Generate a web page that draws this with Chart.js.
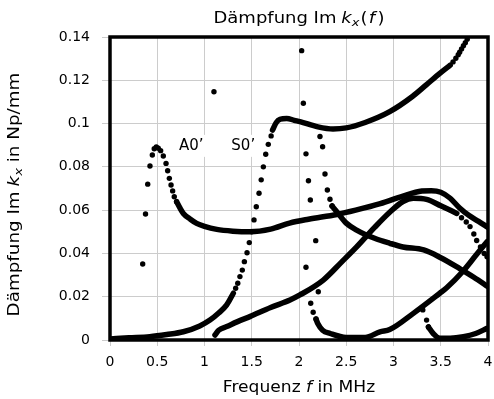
<!DOCTYPE html>
<html><head><meta charset="utf-8">
<script src="https://cdn.jsdelivr.net/npm/chart.js@4/dist/chart.umd.min.js"></script>
<style>html,body{margin:0;padding:0;background:#fff}canvas{display:block}</style>
</head><body>
<canvas id="c" width="494" height="399"></canvas>
<script>
// ---- data (frequency in MHz, attenuation in Np/mm) ----
const xTicks = [0, 0.5, 1, 1.5, 2, 2.5, 3, 3.5, 4];
const yTicks = [0, 0.02, 0.04, 0.06, 0.08, 0.1, 0.12, 0.14];

// A0' branch
const a0DotF = [0.346, 0.376, 0.399, 0.423, 0.448, 0.468, 0.49, 0.511, 0.536, 0.564, 0.593, 0.61, 0.628, 0.646, 0.663, 0.68, 0.705];
const a0DotV = [0.0351, 0.0582, 0.072, 0.0804, 0.0855, 0.0884, 0.0892, 0.0886, 0.0875, 0.085, 0.0816, 0.0782, 0.0747, 0.0716, 0.0689, 0.0662, 0.0639];
const a0LineF = [0.705, 0.74, 0.776, 0.85, 0.917, 1.0, 1.13, 1.3, 1.48, 1.7, 1.9, 2.1, 2.4, 2.6, 2.86, 3.1, 3.3, 3.4, 3.5, 3.6, 3.7, 3.8, 3.9, 4.0];
const a0LineV = [0.0639, 0.061, 0.0585, 0.0558, 0.0539, 0.0525, 0.0511, 0.0503, 0.050, 0.0512, 0.054, 0.0558, 0.058, 0.060, 0.063, 0.0665, 0.0688, 0.069, 0.0683, 0.0655, 0.061, 0.0575, 0.0548, 0.052];

// S0' branch
const s0LineAF = [0.0, 0.2, 0.42, 0.6, 0.776, 0.95, 1.058, 1.15, 1.235, 1.305];
const s0LineAV = [0.0005, 0.001, 0.0015, 0.0025, 0.0038, 0.0065, 0.0092, 0.0125, 0.0162, 0.0216];
const s0DotF = [1.33, 1.352, 1.375, 1.40, 1.422, 1.45, 1.474, 1.50, 1.524, 1.548, 1.577, 1.60, 1.623, 1.648, 1.675, 1.705];
const s0DotV = [0.0239, 0.0262, 0.0293, 0.0323, 0.0362, 0.0403, 0.045, 0.050, 0.0555, 0.0616, 0.0678, 0.074, 0.080, 0.0858, 0.0904, 0.0943];
const s0LineBF = [1.72, 1.76, 1.8, 1.87, 1.95, 2.01, 2.2, 2.36, 2.5, 2.7, 2.96, 3.2, 3.35, 3.49, 3.6];
const s0LineBV = [0.097, 0.1005, 0.102, 0.1024, 0.1015, 0.1009, 0.0985, 0.0975, 0.098, 0.1005, 0.1055, 0.1125, 0.118, 0.1232, 0.127];
const s0TopDotF = [3.63, 3.66, 3.685, 3.70, 3.72, 3.74, 3.76, 3.78];
const s0TopDotV = [0.1285, 0.1302, 0.1318, 0.133, 0.1345, 0.136, 0.1374, 0.139];

// branch starting near 1.1 MHz
const qLineF = [1.111, 1.15, 1.235, 1.35, 1.48, 1.7, 1.905, 2.01, 2.257, 2.45, 2.61, 2.8, 2.96, 3.1, 3.21, 3.35, 3.5, 3.67];
const qLineV = [0.0023, 0.0045, 0.0062, 0.0085, 0.0108, 0.015, 0.0185, 0.0208, 0.0277, 0.036, 0.043, 0.052, 0.059, 0.064, 0.0655, 0.065, 0.062, 0.0585];
const qDotF = [3.72, 3.77, 3.81, 3.85, 3.88, 3.92, 3.96, 3.99];
const qDotV = [0.0565, 0.0545, 0.0524, 0.049, 0.046, 0.043, 0.040, 0.0385];

// steep branch (right column of dots) continuing downwards
const rDotF = [2.222, 2.25, 2.275, 2.30, 2.328, 2.35];
const rDotV = [0.094, 0.0893, 0.0767, 0.0693, 0.065, 0.0619];
const rLineF = [2.35, 2.40, 2.5, 2.61, 2.8, 2.96, 3.1, 3.32, 3.5, 3.7, 3.85, 4.0];
const rLineV = [0.0619, 0.0593, 0.054, 0.0508, 0.047, 0.0447, 0.043, 0.0416, 0.038, 0.033, 0.029, 0.0246];

// steep branch (left column of dots) falling to the axis
const lDotF = [2.028, 2.046, 2.074, 2.10, 2.12, 2.177, 2.204, 2.074, 2.124, 2.15, 2.18];
const lDotV = [0.1337, 0.1094, 0.086, 0.0736, 0.0647, 0.0459, 0.0223, 0.0336, 0.017, 0.0128, 0.0097];
const sLineF = [2.18, 2.2, 2.25, 2.33, 2.5, 2.7, 2.857, 2.96, 3.21, 3.49, 3.56, 3.74, 3.87, 3.99];
const sLineV = [0.0097, 0.0075, 0.0045, 0.003, 0.0012, 0.0012, 0.0038, 0.0048, 0.0123, 0.0216, 0.024, 0.032, 0.039, 0.0454];

// branch near 3.3 MHz
const tDotF = [3.31, 3.35, 3.37];
const tDotV = [0.0139, 0.0092, 0.006];
const tLineF = [3.37, 3.42, 3.49, 3.6, 3.74, 3.87, 3.99];
const tLineV = [0.006, 0.003, 0.0008, 0.0008, 0.0015, 0.003, 0.0054];

// isolated solution
const isoF = [1.1];
const isoV = [0.1147];

// mode labels
const labelText = ["A0\u2019", "S0\u2019"];
const labelF = [0.86, 1.41];
const labelV = [0.0897, 0.0897];

// ---- chart ----
const FONT = "'DejaVu Sans', sans-serif";
const pts = (f, v) => f.map((x, i) => ({x: x, y: v[i]}));
const lineDs = (f, v) => ({data: pts(f, v), showLine: true, borderColor: '#000', borderWidth: 5.5,
  pointRadius: 0, cubicInterpolationMode: 'monotone', borderCapStyle: 'round', borderJoinStyle: 'round'});
const dotDs = (f, v) => ({data: pts(f, v), showLine: false, pointRadius: 2.7, pointBackgroundColor: '#000',
  pointBorderWidth: 0, pointHoverRadius: 2.7});

function drawRich(ctx, parts, x, y, size, stretch) {
  let w = 0;
  const segs = parts.map(p => {
    const s = p.sub ? size * 0.72 : size;
    const f = (p.it ? 'italic ' : '') + s + 'px ' + FONT;
    ctx.font = f;
    const m = ctx.measureText(p.t).width + (p.gap || 0);
    w += m + (p.pre || 0);
    return {t: p.t, f: f, w: m, dy: p.sub ? size * 0.22 : 0, pre: p.pre || 0};
  });
  ctx.save();
  ctx.translate(x, y);
  ctx.scale(stretch, 1);
  let cx = -w / 2;
  ctx.textBaseline = 'alphabetic';
  ctx.textAlign = 'left';
  segs.forEach(s => { cx += s.pre; ctx.font = s.f; ctx.fillText(s.t, cx, s.dy); cx += s.w; });
  ctx.restore();
}

const deco = {
  id: 'deco',
  beforeDatasetsDraw(chart) {
    const ctx = chart.ctx, xs = chart.scales.x, ys = chart.scales.y;
    ctx.save();
    ctx.font = '15px ' + FONT;
    ctx.textAlign = 'center';
    ctx.textBaseline = 'middle';
    labelText.forEach((t, i) => {
      const px = xs.getPixelForValue(labelF[i]), py = ys.getPixelForValue(labelV[i]);
      const w = ctx.measureText(t).width;
      ctx.fillStyle = '#fff';
      ctx.fillRect(px - w / 2 - 3, py - 11, w + 6, 22);
      ctx.fillStyle = '#000';
      ctx.fillText(t, px, py);
    });
    ctx.restore();
  },
  afterDraw(chart) {
    const ctx = chart.ctx, a = chart.chartArea;
    ctx.save();
    ctx.strokeStyle = '#000';
    ctx.lineWidth = 3.5;
    ctx.strokeRect(a.left, a.top, a.right - a.left, a.bottom - a.top);
    ctx.fillStyle = '#000';
    const cx = (a.left + a.right) / 2;
    drawRich(ctx, [{t: 'Dämpfung '}, {t: 'Im', gap: 4}, {t: 'k', it: true}, {t: 'x', it: true, sub: true, gap: 1},
      {t: '('}, {t: 'f', it: true, pre: 1, gap: 2}, {t: ')'}], cx, 23, 15, 1.2);
    drawRich(ctx, [{t: 'Frequenz '}, {t: 'f', it: true}, {t: ' in MHz'}], cx, 392, 15, 1.14);
    ctx.translate(19, (a.top + a.bottom) / 2 + 6);
    ctx.rotate(-Math.PI / 2);
    drawRich(ctx, [{t: 'Dämpfung '}, {t: 'Im', gap: 4}, {t: 'k', it: true}, {t: 'x', it: true, sub: true},
      {t: ' in Np/mm'}], 0, 0, 15, 1.22);
    ctx.restore();
  }
};

new Chart(document.getElementById('c'), {
  type: 'scatter',
  data: {
    datasets: [
      lineDs(a0LineF, a0LineV), dotDs(a0DotF, a0DotV),
      lineDs(s0LineAF, s0LineAV), dotDs(s0DotF, s0DotV), lineDs(s0LineBF, s0LineBV), dotDs(s0TopDotF, s0TopDotV),
      lineDs(qLineF, qLineV), dotDs(qDotF, qDotV),
      dotDs(rDotF, rDotV), lineDs(rLineF, rLineV),
      dotDs(lDotF, lDotV), lineDs(sLineF, sLineV),
      dotDs(tDotF, tDotV), lineDs(tLineF, tLineV),
      dotDs(isoF, isoV)
    ]
  },
  options: {
    responsive: false, animation: false, devicePixelRatio: 1,
    layout: {padding: {top: 37, right: 6, left: 0, bottom: 0}},
    plugins: {legend: {display: false}, tooltip: {enabled: false}, title: {display: false}},
    scales: {
      x: {
        type: 'linear', min: 0, max: 4,
        afterBuildTicks: s => { s.ticks = xTicks.map(v => ({value: v})); },
        afterFit: s => { s.height = 59; s.paddingLeft = 0; s.paddingRight = 0; },
        grid: {color: '#cccccc', lineWidth: 1, tickLength: 6},
        border: {display: false},
        ticks: {color: '#000', font: {family: FONT, size: 14}, padding: 8, maxRotation: 0,
          callback: v => String(v)}
      },
      y: {
        type: 'linear', min: 0, max: 0.14,
        afterBuildTicks: s => { s.ticks = yTicks.map(v => ({value: v})); },
        afterFit: s => { s.width = 110; s.paddingTop = 0; s.paddingBottom = 0; },
        grid: {color: '#cccccc', lineWidth: 1, tickLength: 8},
        border: {display: false},
        ticks: {color: '#000', font: {family: FONT, size: 14}, padding: 12,
          callback: v => (v === 0 ? '0' : String(+v.toFixed(2)))}
      }
    }
  },
  plugins: [deco]
});
</script>
</body></html>
